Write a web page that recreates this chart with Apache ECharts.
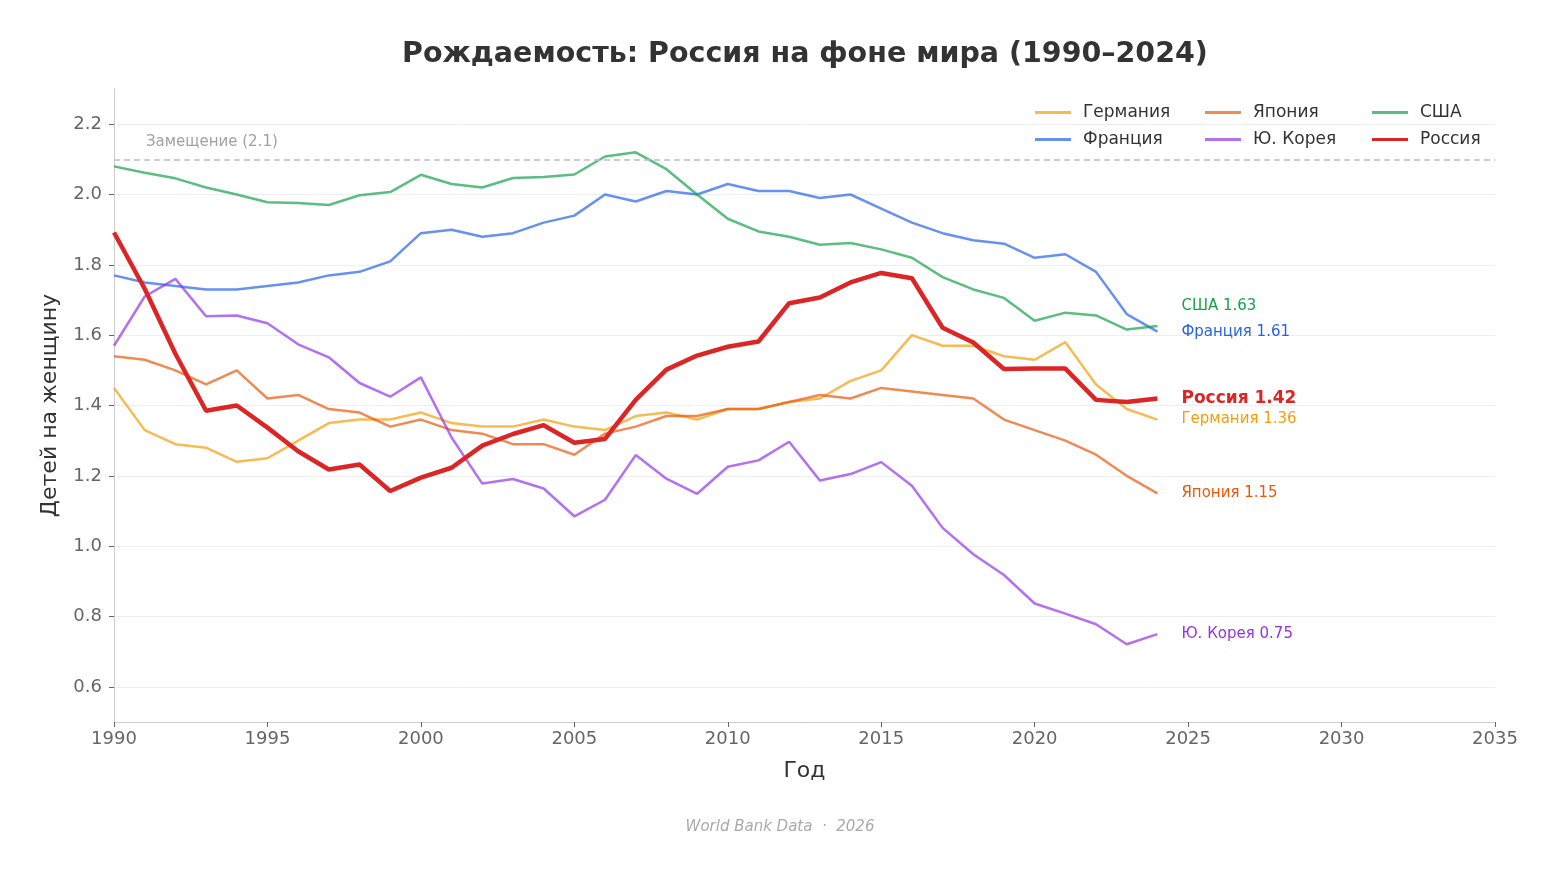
<!DOCTYPE html>
<html>
<head>
<meta charset="utf-8">
<script src="https://cdn.jsdelivr.net/npm/echarts@6/dist/echarts.min.js"></script>
<style>html,body{margin:0;padding:0;background:#fff}#c{width:1560px;height:873px}</style>
</head>
<body>
<div id="c"></div>
<script>
const years = [1990,1991,1992,1993,1994,1995,1996,1997,1998,1999,2000,2001,2002,2003,2004,2005,2006,2007,2008,2009,2010,2011,2012,2013,2014,2015,2016,2017,2018,2019,2020,2021,2022,2023,2024];
const germany = [1.45,1.33,1.29,1.28,1.24,1.25,1.30,1.35,1.36,1.36,1.38,1.35,1.34,1.34,1.36,1.34,1.33,1.37,1.38,1.36,1.39,1.39,1.41,1.42,1.47,1.50,1.60,1.57,1.57,1.54,1.53,1.58,1.46,1.39,1.36];
const france = [1.77,1.75,1.74,1.73,1.73,1.74,1.75,1.77,1.78,1.81,1.89,1.90,1.88,1.89,1.92,1.94,2.00,1.98,2.01,2.00,2.03,2.01,2.01,1.99,2.00,1.96,1.92,1.89,1.87,1.86,1.82,1.83,1.78,1.66,1.61];
const japan = [1.54,1.53,1.50,1.46,1.50,1.42,1.43,1.39,1.38,1.34,1.36,1.33,1.32,1.29,1.29,1.26,1.32,1.34,1.37,1.37,1.39,1.39,1.41,1.43,1.42,1.45,1.44,1.43,1.42,1.36,1.33,1.30,1.26,1.20,1.15];
const korea = [1.57,1.71,1.76,1.654,1.656,1.634,1.574,1.537,1.464,1.425,1.48,1.309,1.178,1.191,1.164,1.085,1.132,1.259,1.192,1.149,1.226,1.244,1.297,1.187,1.205,1.239,1.172,1.052,0.977,0.918,0.837,0.808,0.778,0.721,0.75];
const usa = [2.08,2.062,2.046,2.02,2.00,1.978,1.976,1.97,1.998,2.007,2.056,2.03,2.02,2.047,2.05,2.057,2.108,2.12,2.072,2.00,1.931,1.895,1.88,1.857,1.862,1.844,1.82,1.765,1.73,1.706,1.641,1.664,1.656,1.616,1.626];
const russia = [1.892,1.732,1.547,1.385,1.40,1.337,1.27,1.218,1.232,1.157,1.195,1.223,1.286,1.319,1.344,1.294,1.305,1.416,1.502,1.542,1.567,1.582,1.691,1.707,1.750,1.777,1.762,1.621,1.579,1.504,1.505,1.505,1.416,1.41,1.42];
const yTicks = [0.6,0.8,1.0,1.2,1.4,1.6,1.8,2.0,2.2];
const replacement = 2.1;

const FONT = 'DejaVu Sans';
const pairs = arr => arr.map((v,i)=>[years[i], v]);

function mk(name, data, color, opts) {
  opts = opts || {};
  return {
    name, type: 'line', data: pairs(data), symbol: 'none', z: opts.z || 2,
    lineStyle: { color, width: opts.width || 2.5, opacity: opts.opacity != null ? opts.opacity : 0.7 },
    itemStyle: { color, opacity: opts.opacity != null ? opts.opacity : 0.7 },
    emphasis: { disabled: true },
    endLabel: {
      show: true, distance: 24, fontFamily: FONT,
      fontSize: opts.bold ? 17 : 15, fontWeight: opts.bold ? 'bold' : 'normal',
      color, offset: opts.offset || [0, 0],
      formatter: p => name + ' ' + p.value[1].toFixed(2)
    },
    markLine: opts.markLine
  };
}

const chart = echarts.init(document.getElementById('c'));
const legendBase = {
  orient: 'vertical', top: 99, itemGap: 10, itemWidth: 36, itemHeight: 14,
  textStyle: { fontFamily: FONT, fontSize: 17, color: '#333', padding: [0,0,0,7] },
  icon: 'path://M0,6 L36,6 L36,9 L0,9 Z', selectedMode: false
};
chart.setOption({
  animation: false,
  title: [
    { text: 'Рождаемость: Россия на фоне мира (1990–2024)', left: 397, top: 35,
      textStyle: { fontFamily: FONT, fontSize: 28.5, fontWeight: 'bold', color: '#333' } },
    { text: 'World Bank Data  ·  2026', left: 'center', top: 815,
      textStyle: { fontFamily: FONT, fontSize: 15, fontStyle: 'italic', fontWeight: 'normal', color: '#aaa' } }
  ],
  legend: [
    Object.assign({}, legendBase, { left: 1030, data: ['Германия','Франция'] }),
    Object.assign({}, legendBase, { left: 1200, data: ['Япония','Ю. Корея'] }),
    Object.assign({}, legendBase, { left: 1367, data: ['США','Россия'] })
  ],
  grid: { left: 114, right: 65, top: 89, bottom: 151, containLabel: false },
  xAxis: {
    type: 'value', min: 1990, max: 2035, interval: 5,
    name: 'Год', nameLocation: 'middle', nameGap: 38,
    nameTextStyle: { fontFamily: FONT, fontSize: 22, color: '#333' },
    axisLine: { show: true, lineStyle: { color: '#ccc', width: 1 } },
    axisTick: { show: true, length: 5, lineStyle: { color: '#666' } },
    axisLabel: { fontFamily: FONT, fontSize: 18, color: '#666', margin: 8, formatter: v => String(v) },
    splitLine: { show: false }
  },
  yAxis: {
    type: 'value', min: 0.5, max: 2.3,
    name: 'Детей на женщину', nameLocation: 'middle', nameGap: 53,
    nameTextStyle: { fontFamily: FONT, fontSize: 22, color: '#333' },
    axisLine: { show: true, lineStyle: { color: '#ccc', width: 1 } },
    axisTick: { show: true, length: 5, lineStyle: { color: '#666' }, customValues: yTicks },
    axisLabel: { fontFamily: FONT, fontSize: 18, color: '#666', margin: 12, customValues: yTicks,
      formatter: v => v.toFixed(1) },
    splitLine: { show: true, lineStyle: { color: '#eee', width: 1 } }
  },
  series: [
    mk('Германия', germany, '#f59e0b'),
    mk('Франция', france, '#2563eb'),
    mk('Япония', japan, '#ea580c'),
    mk('Ю. Корея', korea, '#9333ea'),
    mk('США', usa, '#16a34a', { offset: [0, -20], markLine: {
      silent: true, symbol: 'none',
      lineStyle: { color: '#bcbcc4', type: [6, 4], width: 1.5, opacity: 1 },
      label: { show: true, position: 'insideStartTop', formatter: 'Замещение (2.1)',
        fontFamily: FONT, fontSize: 15, color: '#a1a1aa', distance: [32, 10] },
      data: [{ yAxis: replacement }]
    } }),
    mk('Россия', russia, '#dc2626', { width: 4.5, opacity: 1, bold: true, z: 5 })
  ]
});
</script>
</body>
</html>
